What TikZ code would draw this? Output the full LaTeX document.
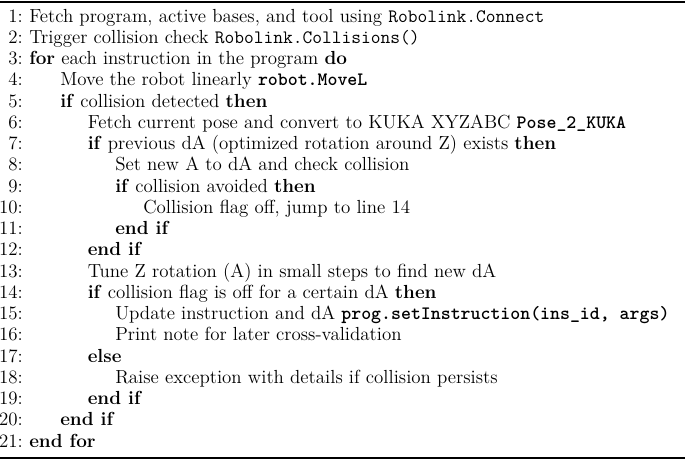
\documentclass[tikz,border=0pt]{standalone}
\begin{document}
\begin{tikzpicture}[x=0.75pt,y=-0.75pt,
  num/.style={anchor=base east,inner sep=0pt,font=\fontsize{14.2}{17}\selectfont},
  txt/.style={anchor=base west,inner sep=0pt,font=\fontsize{14.2}{17}\selectfont}]
\useasboundingbox (0,0) rectangle (685,461);
\draw[line width=1.6pt] (0,2) -- (685,2);
\draw[line width=1.1pt] (0,458) -- (685,458);
\def\lh{21.25}
\newcommand\aline[3]{%
  \node[num] (n#1) at (23,{22+(#1-1)*\lh}) {#1:};
  \node[txt] (l#1) at (#2,{22+(#1-1)*\lh}) {#3};}
\aline{1}{29}{Fetch program, active bases, and tool using \texttt{Robolink.Connect}}
\aline{2}{29}{Trigger collision check \texttt{Robolink.Collisions()}}
\aline{3}{29}{\textbf{for} each instruction in the program \textbf{do}}
\aline{4}{60}{Move the robot linearly \texttt{\bfseries robot.MoveL}}
\aline{5}{60}{\textbf{if} collision detected \textbf{then}}
\aline{6}{87.5}{Fetch current pose and convert to KUKA XYZABC \texttt{\bfseries Pose\_2\_KUKA}}
\aline{7}{87.5}{\textbf{if} previous dA (optimized rotation around Z) exists \textbf{then}}
\aline{8}{115}{Set new A to dA and check collision}
\aline{9}{115}{\textbf{if} collision avoided \textbf{then}}
\aline{10}{143}{Collision flag off, jump to line 14}
\aline{11}{115}{\textbf{end if}}
\aline{12}{87.5}{\textbf{end if}}
\aline{13}{87.5}{Tune Z rotation (A) in small steps to find new dA}
\aline{14}{87.5}{\textbf{if} collision flag is off for a certain dA \textbf{then}}
\aline{15}{115}{Update instruction and dA \texttt{\bfseries prog.setInstruction(ins\_id, args)}}
\aline{16}{115}{Print note for later cross-validation}
\aline{17}{87.5}{\textbf{else}}
\aline{18}{115}{Raise exception with details if collision persists}
\aline{19}{87.5}{\textbf{end if}}
\aline{20}{60}{\textbf{end if}}
\aline{21}{29}{\textbf{end for}}
\end{tikzpicture}
\end{document}
